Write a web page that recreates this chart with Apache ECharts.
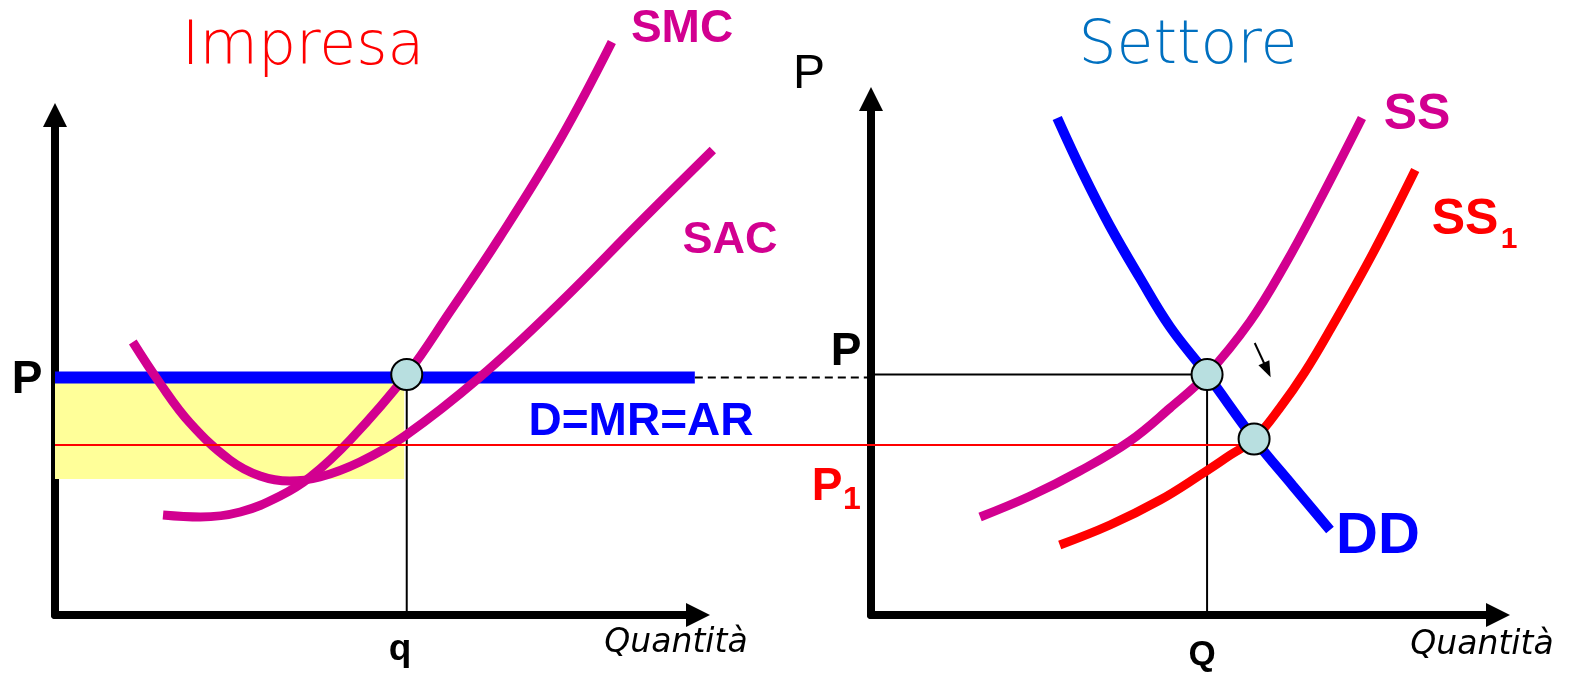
<!DOCTYPE html>
<html>
<head>
<meta charset="utf-8">
<script src="https://cdn.jsdelivr.net/npm/echarts@6/dist/echarts.min.js"></script>
<style>html,body{margin:0;padding:0;background:#fff;}#chart{width:1574px;height:676px;}</style>
</head>
<body>
<div id="chart"></div>
<script>
// ---- data (arbitrary units) ----
// Left panel: Impresa (firm)
const smcCurve = [[16.8,20.0],[22.6,19.6],[28.8,20.6],[35.0,23.8],[39.7,27.6],[45.9,35.0],[54.7,48.1],[61.4,60.6],[69.2,75.6],[78.5,95.0],[86.6,114.6]];
const sacCurve = [[12.1,54.6],[16.3,46.4],[21.0,38.4],[27.2,31.0],[31.9,27.8],[36.5,26.8],[41.2,27.6],[47.4,30.6],[54.4,35.8],[66.1,47.6],[78.5,62.4],[91.0,78.6],[102.3,93.0]];
const priceP = 47.5;        // D=MR=AR level
const priceEq = 48.1;       // equilibrium price at the circles
const priceP1 = 34.0;       // new price P1
const qFirm = 54.7;         // firm quantity q
const demandEnd = 99.5;     // end of the D=MR=AR line
const linkEnd = 126.9;      // where the left-panel guide lines meet the right axis
const profitBottom = 27.2;  // bottom of the yellow area
// Right panel: Settore (industry)
const ddCurve = [[29.7,99.4],[33.7,88.6],[38.1,77.8],[42.9,67.4],[47.7,57.6],[53.6,48.1],[61.1,35.2],[67.3,25.8],[73.2,17.0]];
const ssCurve = [[17.4,19.6],[25.4,23.8],[33.3,28.8],[41.3,34.8],[47.7,41.4],[53.6,48.1],[60.4,58.6],[66.0,70.0],[71.6,83.0],[78.3,99.4]];
const ss1Curve = [[30.1,14.0],[38.1,18.0],[46.1,23.0],[52.5,28.0],[57.3,32.0],[61.1,35.2],[65.2,41.4],[69.2,48.6],[73.2,57.0],[79.9,72.0],[86.8,89.0]];
const qIndustry = 53.6;
const eq2 = [61.1, 35.2];
const shiftArrow = [[61.2, 54.4], [63.2, 49.0]];

const MAG = '#d20090';
const chart = echarts.init(document.getElementById('chart'));

function axisStyle(){
  return {
    show: true, onZero: false,
    lineStyle: {color: '#000', width: 8},
    symbol: ['none', 'triangle'], symbolSize: [24, 24]
  };
}
const hidden = {axisLine:{show:false}, axisTick:{show:false}, axisLabel:{show:false}, splitLine:{show:false}};
function mkX(gi, max, show){ return Object.assign({gridIndex: gi, type: 'value', min: 0, max: max}, hidden, show ? {axisLine: axisStyle()} : {}); }
function mkY(gi, max, show){ return Object.assign({gridIndex: gi, type: 'value', min: 0, max: max}, hidden, show ? {axisLine: axisStyle()} : {}); }

// grid 2 = same scale as the left panel, but reaching the right panel's axis
function lineS(gi, data, color, width, z, extra){
  return Object.assign({
    type: 'line', xAxisIndex: gi, yAxisIndex: gi, data: data,
    showSymbol: false, symbol: 'none', clip: false, silent: true, animation: false,
    lineStyle: {color: color, width: width}, z: z
  }, extra || {});
}

const circleStyle = {color: '#b8dfe0', borderColor: '#000', borderWidth: 2, opacity: 1};

function txt(x, y, text, font, color){
  return {type: 'text', x: x, y: y, z: 100, silent: true,
    style: {text: text, font: font, fill: color, align: 'center', verticalAlign: 'middle'}};
}
const B = '"Liberation Sans", Arial, sans-serif';
const T = '"DejaVu Sans", sans-serif';

chart.setOption({
  animation: false,
  backgroundColor: '#fff',
  grid: [
    {left: 55, top: 115, width: 643, height: 500},
    {left: 871, top: 99, width: 627, height: 516},
    {left: 55, top: 115, width: 816, height: 500}
  ],
  xAxis: [mkX(0, 100, true), mkX(1, 100, true), mkX(2, linkEnd, false)],
  yAxis: [mkY(0, 100, true), mkY(1, 103.2, true), mkY(2, 100, false)],
  series: [
    // left panel (drawn on grid 2, same scale as the visible left axes)
    lineS(2, [[0, priceP]], 'transparent', 0, 1, {
      markArea: {silent: true, itemStyle: {color: '#ffff99', opacity: 1},
        data: [[{coord: [0, profitBottom]}, {coord: [qFirm - 0.4, priceP]}]]}
    }),
    lineS(2, [[qFirm, 0], [qFirm, priceEq]], '#000', 2, 3),
    lineS(2, [[0, priceP], [demandEnd, priceP]], '#0000ff', 12, 4),
    lineS(2, sacCurve, MAG, 9, 5, {smooth: 0.4}),
    lineS(2, smcCurve, MAG, 9, 5, {smooth: 0.4}),
    lineS(2, [[demandEnd, priceP], [linkEnd, priceP]], '#000', 2, 3, {lineStyle: {color: '#000', width: 2, type: [8, 5]}}),
    lineS(2, [[0, priceP1], [linkEnd, priceP1]], '#ff0000', 2, 6),
    {type: 'scatter', xAxisIndex: 2, yAxisIndex: 2, data: [[qFirm, priceEq]], symbolSize: 31, itemStyle: circleStyle, z: 10, silent: true, animation: false},
    // right panel
    lineS(1, [[0, priceEq], [qIndustry, priceEq]], '#000', 2, 3),
    lineS(1, [[qIndustry, 0], [qIndustry, priceEq]], '#000', 2, 3),
    lineS(1, [[0, priceP1], [eq2[0], priceP1]], '#ff0000', 2, 3),
    lineS(1, ssCurve, MAG, 9, 5, {smooth: 0.4}),
    lineS(1, ss1Curve, '#ff0000', 9, 5, {smooth: 0.4}),
    lineS(1, ddCurve, '#0000ff', 10, 6, {smooth: 0.4,
      markLine: {silent: true, animation: false, symbol: ['none', 'triangle'], symbolSize: [12, 16], label: {show: false},
        lineStyle: {color: '#000', width: 2, type: 'solid'},
        data: [[{coord: shiftArrow[0]}, {coord: shiftArrow[1]}]]}
    }),
    {type: 'scatter', xAxisIndex: 1, yAxisIndex: 1, data: [[qIndustry, priceEq], eq2], symbolSize: 31, itemStyle: circleStyle, z: 10, silent: true, animation: false}
  ],
  graphic: [
    txt(303, 48, 'Impresa', '200 60px ' + T, '#ff0000'),
    txt(1188, 47, 'Settore', '200 60px ' + T, '#0070c0'),
    txt(682, 29, 'SMC', 'bold 46px ' + B, MAG),
    txt(730, 241, 'SAC', 'bold 45px ' + B, MAG),
    txt(1417, 115, 'SS', 'bold 50px ' + B, MAG),
    txt(1465, 220, 'SS', 'bold 50px ' + B, '#ff0000'),
    txt(1509, 240, '1', 'bold 30px ' + B, '#ff0000'),
    txt(1378, 537, 'DD', 'bold 58px ' + B, '#0000ff'),
    txt(641, 422, 'D=MR=AR', 'bold 46px ' + B, '#0000ff'),
    txt(27, 380, 'P', 'bold 46px ' + B, '#000'),
    txt(846, 352, 'P', 'bold 46px ' + B, '#000'),
    txt(827, 487, 'P', 'bold 46px ' + B, '#ff0000'),
    txt(852, 500, '1', 'bold 32px ' + B, '#ff0000'),
    txt(809, 75, 'P', '48px ' + B, '#000'),
    txt(400, 650, 'q', 'bold 37px ' + B, '#000'),
    txt(1202, 655, 'Q', 'bold 35px ' + B, '#000'),
    txt(676, 643, 'Quantità', 'oblique 33px ' + T, '#000'),
    txt(1482, 645, 'Quantità', 'oblique 33px ' + T, '#000')
  ]
});
</script>
</body>
</html>
